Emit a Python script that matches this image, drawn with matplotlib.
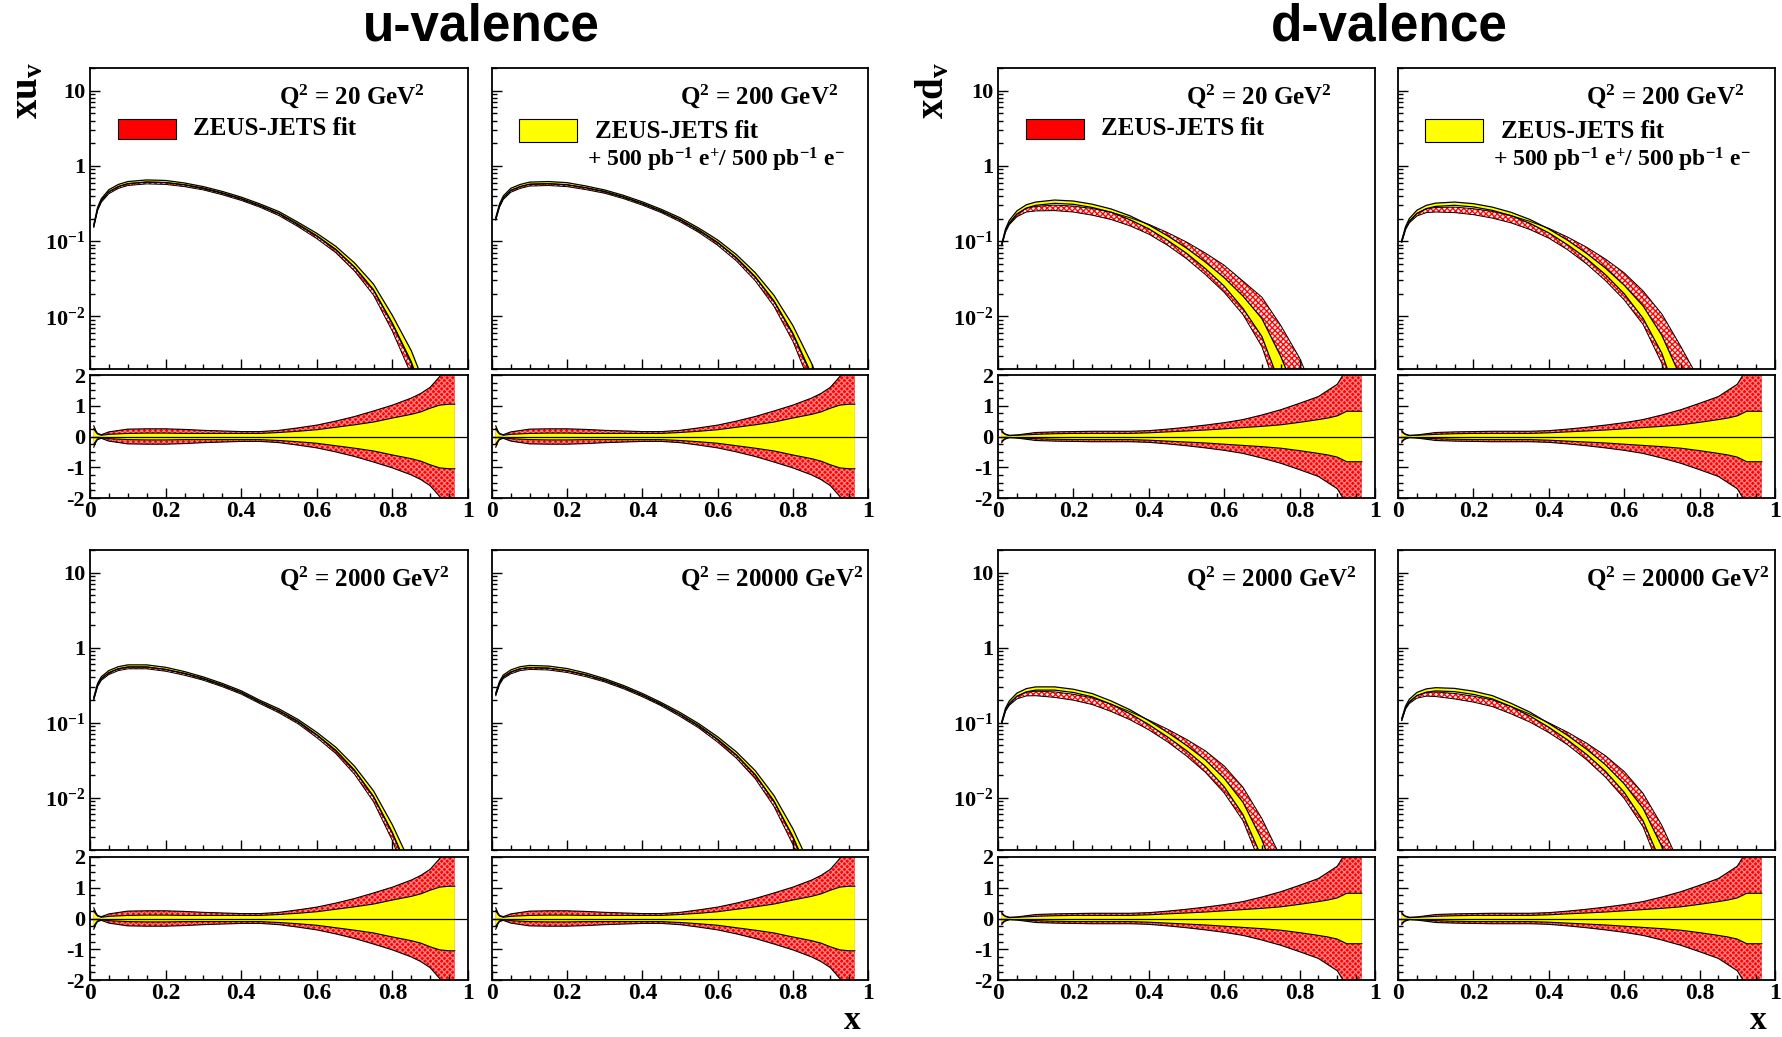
import numpy as np
import matplotlib
matplotlib.use('Agg')
import matplotlib.pyplot as plt
from matplotlib.patches import Rectangle
from matplotlib.ticker import FixedLocator, MultipleLocator, LogLocator, NullFormatter, FixedFormatter

plt.rcParams['font.family'] = ['Liberation Serif', 'DejaVu Serif']
plt.rcParams['font.weight'] = 'bold'
plt.rcParams['mathtext.fontset'] = 'custom'
plt.rcParams['mathtext.rm'] = 'Liberation Serif:bold'
plt.rcParams['mathtext.it'] = 'Liberation Serif:bold'
plt.rcParams['mathtext.bf'] = 'Liberation Serif:bold'
plt.rcParams['hatch.linewidth'] = 0.9

# x values for the PDF curves (upper panels)
x_main = [0.01, 0.02, 0.03, 0.05, 0.075, 0.1, 0.15, 0.2, 0.25, 0.3, 0.35, 0.4,
          0.45, 0.5, 0.55, 0.6, 0.65, 0.7, 0.75, 0.8, 0.85, 0.9, 0.95]

# xu_v central values (yellow fit) at each Q^2
u_q20 = [0.16, 0.27, 0.35, 0.46, 0.54, 0.59, 0.62, 0.61, 0.57, 0.51, 0.44, 0.37,
         0.30, 0.235, 0.17, 0.12, 0.08, 0.047, 0.024, 0.0088, 0.0028, 0.0006, 0.00006]
u_q200 = [0.2, 0.3, 0.38, 0.48, 0.54, 0.58, 0.59, 0.57, 0.52, 0.46, 0.39, 0.32,
          0.255, 0.195, 0.142, 0.098, 0.062, 0.035, 0.017, 0.0065, 0.0019, 0.0004, 0.00005]
u_q2000 = [0.21, 0.32, 0.39, 0.47, 0.53, 0.56, 0.56, 0.52, 0.46, 0.39, 0.32, 0.255,
           0.19, 0.145, 0.105, 0.07, 0.044, 0.024, 0.011, 0.0037, 0.001, 0.0002, 0.00002]
u_q20000 = [0.24, 0.34, 0.41, 0.48, 0.53, 0.55, 0.54, 0.5, 0.44, 0.37, 0.30, 0.235,
            0.178, 0.13, 0.092, 0.061, 0.038, 0.021, 0.0095, 0.0033, 0.0009, 0.00018, 0.00002]

# xd_v central values (yellow fit) at each Q^2
d_q20 = [0.09, 0.14, 0.18, 0.24, 0.29, 0.315, 0.335, 0.325, 0.295, 0.255, 0.205, 0.155,
         0.11, 0.075, 0.048, 0.029, 0.0155, 0.0072, 0.0019, 0.0004, 0.00006, 0.00001, 0.000001]
d_q200 = [0.1, 0.15, 0.19, 0.245, 0.285, 0.305, 0.315, 0.3, 0.27, 0.23, 0.183, 0.137,
          0.096, 0.064, 0.04, 0.023, 0.0115, 0.0043, 0.001, 0.0002, 0.00003, 0.000005, 0.000001]
d_q2000 = [0.1, 0.15, 0.185, 0.235, 0.27, 0.285, 0.285, 0.265, 0.232, 0.185, 0.14, 0.1,
           0.069, 0.046, 0.029, 0.016, 0.0072, 0.0021, 0.0004, 0.00006, 0.00001, 0.000002, 0.000001]
d_q20000 = [0.11, 0.16, 0.195, 0.24, 0.268, 0.278, 0.272, 0.25, 0.218, 0.172, 0.13, 0.092,
            0.063, 0.041, 0.025, 0.0135, 0.006, 0.0017, 0.0003, 0.00004, 0.000006, 0.000001, 0.000001]

# band edges relative to the yellow central curve
u_red_lo = [0.95, 0.94, 0.94, 0.93, 0.93, 0.93, 0.93, 0.93, 0.93, 0.94, 0.94, 0.94,
            0.94, 0.93, 0.92, 0.9, 0.88, 0.85, 0.8, 0.72, 0.6, 0.45, 0.3]
u_red_hi = [1.02, 1.0, 1.0, 0.99, 0.99, 0.99, 0.99, 0.99, 0.99, 1.0, 1.0, 1.0,
            1.0, 1.0, 1.0, 0.99, 0.98, 0.97, 0.95, 0.93, 0.9, 0.85, 0.8]
u_yel_lo = [0.98, 0.98, 0.98, 0.98, 0.98, 0.98, 0.98, 0.98, 0.98, 0.98, 0.98, 0.98,
            0.98, 0.98, 0.97, 0.97, 0.96, 0.95, 0.93, 0.9, 0.85, 0.8, 0.75]
u_yel_hi = [1.03, 1.04, 1.05, 1.05, 1.05, 1.05, 1.05, 1.05, 1.04, 1.04, 1.04, 1.04,
            1.04, 1.05, 1.05, 1.06, 1.07, 1.09, 1.12, 1.17, 1.25, 1.35, 1.45]
d_red_lo = [0.97, 0.95, 0.92, 0.88, 0.84, 0.80, 0.76, 0.75, 0.75, 0.76, 0.78, 0.80,
            0.80, 0.78, 0.75, 0.72, 0.68, 0.55, 0.38, 0.22, 0.13, 0.08, 0.05]
d_red_hi = [1.03, 1.0, 0.98, 0.96, 0.94, 0.92, 0.90, 0.90, 0.92, 0.95, 1.0, 1.08,
            1.18, 1.3, 1.45, 1.65, 1.9, 2.5, 4.0, 7.0, 12.0, 20.0, 30.0]
d_yel_lo = [0.97, 0.96, 0.95, 0.95, 0.95, 0.95, 0.95, 0.95, 0.95, 0.95, 0.94, 0.94,
            0.93, 0.92, 0.9, 0.87, 0.82, 0.75, 0.62, 0.5, 0.4, 0.3, 0.2]
d_yel_hi = [1.03, 1.04, 1.05, 1.05, 1.05, 1.05, 1.05, 1.05, 1.05, 1.05, 1.06, 1.06,
            1.07, 1.08, 1.1, 1.13, 1.2, 1.3, 1.55, 1.8, 2.1, 2.5, 3.0]

# relative uncertainties (lower panels)
x_ratio = [0.01, 0.015, 0.02, 0.03, 0.05, 0.1, 0.15, 0.2, 0.25, 0.3, 0.35, 0.4, 0.45,
           0.5, 0.55, 0.6, 0.65, 0.7, 0.75, 0.8, 0.85, 0.875, 0.9, 0.925, 0.95, 0.965]
u_red_err = [0.35, 0.2, 0.1, 0.06, 0.15, 0.24, 0.25, 0.25, 0.23, 0.2, 0.18, 0.16, 0.16,
             0.2, 0.28, 0.37, 0.5, 0.65, 0.83, 1.02, 1.25, 1.4, 1.6, 1.95, 2.3, 2.4]
u_yel_err = [0.25, 0.15, 0.08, 0.04, 0.07, 0.1, 0.11, 0.11, 0.1, 0.1, 0.1, 0.1, 0.1,
             0.13, 0.17, 0.22, 0.3, 0.38, 0.47, 0.6, 0.72, 0.8, 0.92, 1.02, 1.05, 1.05]
d_red_err = [0.2, 0.12, 0.08, 0.04, 0.05, 0.13, 0.15, 0.16, 0.17, 0.17, 0.17, 0.19, 0.24,
             0.3, 0.37, 0.45, 0.55, 0.7, 0.87, 1.08, 1.3, 1.5, 1.7, 2.2, 2.4, 2.4]
d_yel_err = [0.15, 0.1, 0.06, 0.03, 0.04, 0.07, 0.09, 0.1, 0.1, 0.1, 0.1, 0.12, 0.15,
             0.18, 0.21, 0.25, 0.29, 0.33, 0.38, 0.46, 0.55, 0.6, 0.67, 0.82, 0.82, 0.82]

q2_labels = ['20', '200', '2000', '20000']

W, H = 1782, 1037
fig = plt.figure(figsize=(W / 100, H / 100), dpi=100)

cols_px = [(90, 468), (492, 868), (998, 1375), (1398, 1775)]
rows_px = [((68, 369), (375, 498)), ((550, 850), (857, 980))]


def rect(x0, x1, y0, y1):
    return [x0 / W, 1 - y1 / H, (x1 - x0) / W, (y1 - y0) / H]


def style(ax):
    for s in ax.spines.values():
        s.set_linewidth(1.3)
    ax.tick_params(which='both', direction='in', top=False, right=False, width=1.0, labelsize=16)
    ax.tick_params(which='major', length=7)
    ax.tick_params(which='minor', length=3.5)


def main_panel(ax, central, f, show_labels):
    c = np.array(central)
    red_lo, red_hi = c * np.array(f[0]), c * np.array(f[1])
    yel_lo, yel_hi = c * np.array(f[2]), c * np.array(f[3])
    ax.fill_between(x_main, red_lo, red_hi, facecolor='#ffe4e4', edgecolor='red',
                    hatch='xxxxxx', linewidth=0)
    ax.plot(x_main, red_lo, color='k', lw=0.7)
    ax.plot(x_main, red_hi, color='k', lw=0.7)
    ax.fill_between(x_main, yel_lo, yel_hi, facecolor='yellow', linewidth=0)
    ax.plot(x_main, yel_lo, color='k', lw=0.9)
    ax.plot(x_main, yel_hi, color='k', lw=0.9)
    ax.set_yscale('log')
    ax.set_xlim(0, 1)
    ax.set_ylim(0.002, 20)
    style(ax)
    ax.yaxis.set_major_locator(FixedLocator([0.01, 0.1, 1, 10]))
    ax.yaxis.set_minor_locator(LogLocator(base=10, subs=np.arange(2, 10)))
    ax.yaxis.set_minor_formatter(NullFormatter())
    if show_labels:
        ax.yaxis.set_major_formatter(FixedFormatter([r'10$^{-2}$', r'10$^{-1}$', '1', '10']))
    else:
        ax.yaxis.set_major_formatter(NullFormatter())
    ax.xaxis.set_major_locator(MultipleLocator(0.2))
    ax.xaxis.set_minor_locator(MultipleLocator(0.05))
    ax.tick_params(axis='x', labelbottom=False)


def ratio_panel(ax, red_err, yel_err, show_labels):
    r = np.array(red_err)
    yv = np.array(yel_err)
    ax.fill_between(x_ratio, -r, r, facecolor='#ff0000', edgecolor='#ff8080',
                    hatch='xxxxxx', linewidth=0)
    ax.plot(x_ratio, r, color='k', lw=0.8)
    ax.plot(x_ratio, -r, color='k', lw=0.8)
    ax.fill_between(x_ratio, -yv, yv, facecolor='yellow', linewidth=0)
    ax.plot(x_ratio, yv, color='k', lw=0.8)
    ax.plot(x_ratio, -yv, color='k', lw=0.8)
    ax.axhline(0, color='k', lw=0.9)
    ax.set_xlim(0, 1)
    ax.set_ylim(-2, 2)
    style(ax)
    ax.yaxis.set_minor_locator(MultipleLocator(0.25))
    ax.xaxis.set_minor_locator(MultipleLocator(0.05))
    ax.xaxis.set_major_locator(FixedLocator([0, 0.2, 0.4, 0.6, 0.8, 1.0]))
    ax.xaxis.set_major_formatter(FixedFormatter(['0', '0.2', '0.4', '0.6', '0.8', '1']))
    ax.tick_params(axis='x', labelsize=17, pad=2)
    ax.yaxis.set_major_locator(FixedLocator([-2, -1, 0, 1, 2]))
    if show_labels:
        ax.yaxis.set_major_formatter(FixedFormatter(['-2', '-1', '0', '1', '2']))
    else:
        ax.tick_params(axis='y', labelleft=False)


curves = {'u': [u_q20, u_q200, u_q2000, u_q20000], 'd': [d_q20, d_q200, d_q2000, d_q20000]}
factors = {'u': (u_red_lo, u_red_hi, u_yel_lo, u_yel_hi), 'd': (d_red_lo, d_red_hi, d_yel_lo, d_yel_hi)}
errs = {'u': (u_red_err, u_yel_err), 'd': (d_red_err, d_yel_err)}

for ci, (x0, x1) in enumerate(cols_px):
    flav = 'u' if ci < 2 else 'd'
    first = ci % 2 == 0
    for ri, ((m0, m1), (r0, r1)) in enumerate(rows_px):
        k = ri * 2 + ci % 2
        axm = fig.add_axes(rect(x0, x1, m0, m1))
        main_panel(axm, curves[flav][k], factors[flav], first)
        axm.text(0.5, 0.905, r'Q$^{2}$ = ' + q2_labels[k] + r' GeV$^{2}$',
                 transform=axm.transAxes, fontsize=18, ha='left', va='center')
        if ri == 0:
            if first:
                axm.add_patch(Rectangle((0.074, 0.764), 0.154, 0.066, transform=axm.transAxes,
                                        facecolor='red', edgecolor='k', lw=0.8))
                axm.text(0.272, 0.8, 'ZEUS-JETS fit', transform=axm.transAxes,
                         fontsize=18, ha='left', va='center')
            else:
                axm.add_patch(Rectangle((0.072, 0.754), 0.154, 0.076, transform=axm.transAxes,
                                        facecolor='yellow', edgecolor='k', lw=0.8))
                axm.text(0.274, 0.79, 'ZEUS-JETS fit', transform=axm.transAxes,
                         fontsize=18, ha='left', va='center')
                axm.text(0.253, 0.694, r'+ 500 pb$^{-1}$ e$^{+}$/ 500 pb$^{-1}$ e$^{-}$',
                         transform=axm.transAxes, fontsize=17, ha='left', va='center')
        axr = fig.add_axes(rect(x0, x1, r0, r1))
        ratio_panel(axr, errs[flav][0], errs[flav][1], first)

# group titles and axis names
fig.text(481 / W, 1 - 27 / H, 'u-valence', family='Liberation Sans', fontsize=37,
         fontweight='bold', ha='center', va='center')
fig.text(1389 / W, 1 - 27 / H, 'd-valence', family='Liberation Sans', fontsize=37,
         fontweight='bold', ha='center', va='center')
fig.text(28 / W, 1 - 62 / H, r'xu$_{\mathrm{v}}$', fontsize=28, rotation=90, ha='center', va='top')
fig.text(933 / W, 1 - 62 / H, r'xd$_{\mathrm{v}}$', fontsize=28, rotation=90, ha='center', va='top')
fig.text(860 / W, 1 / H, 'x', fontsize=24, ha='right', va='bottom')
fig.text(1767 / W, 1 / H, 'x', fontsize=24, ha='right', va='bottom')

plt.savefig('out.png', dpi=100)
